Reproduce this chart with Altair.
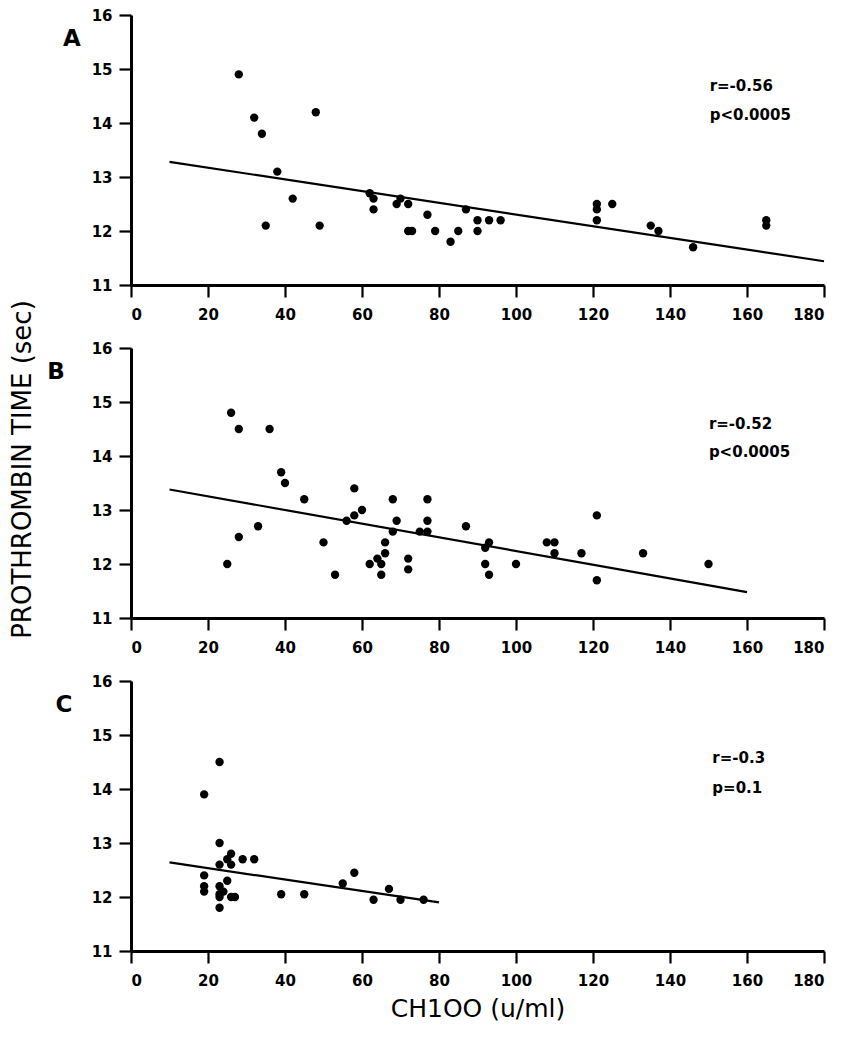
import altair as alt
import pandas as pd

FONT = "DejaVu Sans"

# ---- Panel A ----
A_x = [28, 32, 34, 48, 38, 42, 35, 49, 62, 63, 63, 69, 70, 72, 72, 73, 77, 79, 83, 85,
       87, 90, 90, 93, 96, 121, 121, 121, 125, 135, 137, 146, 165, 165]
A_y = [14.9, 14.1, 13.8, 14.2, 13.1, 12.6, 12.1, 12.1, 12.7, 12.6, 12.4, 12.5, 12.6, 12.5,
       12.0, 12.0, 12.3, 12.0, 11.8, 12.0, 12.4, 12.2, 12.0, 12.2, 12.2, 12.5, 12.4, 12.2,
       12.5, 12.1, 12.0, 11.7, 12.2, 12.1]
A_line_x = [10, 180]
A_line_y = [13.28, 11.44]
A_stats = ["r=-0.56", "p<0.0005"]
A_stats_x = [150.3, 150.3]
A_stats_y = [14.69, 14.15]

# ---- Panel B ----
B_x = [26, 28, 36, 39, 40, 45, 25, 28, 33, 50, 53, 56, 58, 58, 60, 62, 64, 65, 65, 66,
       66, 68, 69, 68, 72, 72, 75, 77, 77, 77, 87, 92, 93, 92, 93, 100, 108, 110, 110,
       117, 121, 121, 133, 150]
B_y = [14.8, 14.5, 14.5, 13.7, 13.5, 13.2, 12.0, 12.5, 12.7, 12.4, 11.8, 12.8, 12.9, 13.4,
       13.0, 12.0, 12.1, 12.0, 11.8, 12.2, 12.4, 13.2, 12.8, 12.6, 12.1, 11.9, 12.6, 12.6,
       12.8, 13.2, 12.7, 12.3, 12.4, 12.0, 11.8, 12.0, 12.4, 12.4, 12.2, 12.2, 12.9, 11.7,
       12.2, 12.0]
B_line_x = [10, 160]
B_line_y = [13.38, 11.48]
B_stats = ["r=-0.52", "p<0.0005"]
B_stats_x = [150.1, 150.1]
B_stats_y = [14.59, 14.07]

# ---- Panel C ----
C_x = [23, 19, 23, 23, 26, 25, 26, 29, 32, 19, 19, 19, 23, 23, 23, 23, 25, 24, 26, 27,
       39, 45, 55, 58, 63, 67, 70, 76]
C_y = [14.5, 13.9, 13.0, 12.6, 12.8, 12.7, 12.6, 12.7, 12.7, 12.4, 12.2, 12.1, 12.2, 12.05,
       12.0, 11.8, 12.3, 12.1, 12.0, 12.0, 12.05, 12.05, 12.25, 12.45, 11.95, 12.15, 11.95,
       11.95]
C_line_x = [10, 80]
C_line_y = [12.64, 11.90]
C_stats = ["r=-0.3", "p=0.1"]
C_stats_x = [151, 151]
C_stats_y = [14.57, 14.01]

x_ticks = [0, 20, 40, 60, 80, 100, 120, 140, 160, 180]
y_ticks = [11, 12, 13, 14, 15, 16]
y_title = "PROTHROMBIN TIME (sec)"
x_title = "CH1OO (u/ml)"


def panel(letter, letter_dx, xs, ys, lx, ly, st, sx, sy, ytitle=False, xtitle=False):
    if ytitle:
        yaxis = alt.Axis(values=y_ticks, format="d", title=y_title, titleX=-109, titleY=121,
                         titleBaseline="middle", titleFont=FONT, titleFontSize=26,
                         titleFontWeight="normal", titleColor="black")
    else:
        yaxis = alt.Axis(values=y_ticks, format="d", title=None)
    if xtitle:
        xaxis = alt.Axis(values=x_ticks, format="d", title=x_title, titleFont=FONT,
                         titleFontSize=25, titleFontWeight="normal", titleColor="black",
                         titlePadding=8)
    else:
        xaxis = alt.Axis(values=x_ticks, format="d", title=None)

    xs_scale = alt.Scale(domain=[0, 180], nice=False, zero=False)
    ys_scale = alt.Scale(domain=[11, 16], nice=False, zero=False)

    pts = pd.DataFrame({"x": xs, "y": ys})
    line_df = pd.DataFrame({"x": lx, "y": ly})
    stats_df = pd.DataFrame({"x": sx, "y": sy, "t": st})
    letter_df = pd.DataFrame({"t": [letter]})

    line = alt.Chart(line_df).mark_line(color="black", strokeWidth=2.2).encode(
        x=alt.X("x:Q", scale=xs_scale, axis=xaxis),
        y=alt.Y("y:Q", scale=ys_scale, axis=yaxis),
    )
    dots = alt.Chart(pts).mark_circle(color="black", size=70, opacity=1).encode(
        x="x:Q", y="y:Q"
    )
    stats = alt.Chart(stats_df).mark_text(
        align="left", baseline="middle", font=FONT, fontSize=15, fontWeight="bold", color="black"
    ).encode(x="x:Q", y="y:Q", text="t:N")
    lab = alt.Chart(letter_df).mark_text(
        align="center", baseline="middle", font=FONT, fontSize=23, fontWeight="bold", color="black"
    ).encode(x=alt.value(letter_dx), y=alt.value(24), text="t:N")
    return alt.layer(line, dots, stats, lab).properties(width=693, height=270)


pA = panel("A", -59, A_x, A_y, A_line_x, A_line_y, A_stats, A_stats_x, A_stats_y)
pB = panel("B", -75, B_x, B_y, B_line_x, B_line_y, B_stats, B_stats_x, B_stats_y, ytitle=True)
pC = panel("C", -67, C_x, C_y, C_line_x, C_line_y, C_stats, C_stats_x, C_stats_y, xtitle=True)

chart = alt.vconcat(pA, pB, pC, spacing=63, bounds="flush").properties(
    padding={"left": 0, "top": 0, "right": 2, "bottom": 5},
    background="white",
).configure_view(stroke=None).configure_axis(
    grid=False,
    domainColor="black",
    domainWidth=3,
    tickColor="black",
    tickWidth=2.2,
    tickSize=12,
    labelFont=FONT,
    labelFontSize=15,
    labelFontWeight="bold",
    labelColor="black",
).configure_axisX(labelPadding=10).configure_axisY(labelPadding=7)

chart.save("out.html", embed_options={"renderer": "svg", "actions": False})
